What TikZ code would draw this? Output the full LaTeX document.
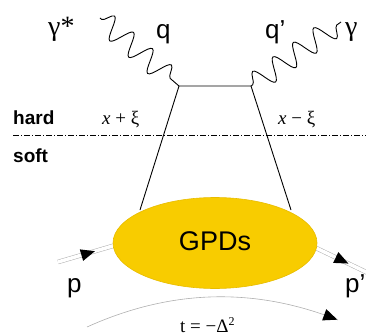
\documentclass[tikz,border=0pt]{standalone}
\usepackage{fontspec}
\setmainfont{Liberation Serif}
\setsansfont{Liberation Sans}
\usetikzlibrary{decorations.pathmorphing,decorations.markings,shapes.geometric}
\definecolor{gpdgold}{RGB}{248,204,0}
\definecolor{gpdedge}{RGB}{232,188,0}
\definecolor{protgray}{RGB}{175,175,175}
\begin{document}
\begin{tikzpicture}[x=1pt,y=1pt,
  photon/.style={decorate,decoration={snake,amplitude=11pt,segment length=25pt,pre length=2pt,post length=2pt},line width=0.9pt},
  quark/.style={line width=0.9pt},
  proton/.style={draw=protgray,double=white,double distance=3.5pt,line width=0.5pt},
  midarrow/.style={decoration={markings,mark=at position #1 with {\fill[black] (7pt,0) -- (-7pt,6pt) -- (-7pt,-6pt) -- cycle;}},decorate},
  sanslbl/.style={font=\sffamily\fontsize{26}{26}\selectfont,inner sep=0pt},
  seriflbl/.style={font=\fontsize{28}{28}\selectfont,inner sep=0pt},
  regionlbl/.style={font=\sffamily\bfseries\fontsize{19}{19}\selectfont,inner sep=0pt},
  mathlbl/.style={font=\fontsize{19}{19}\selectfont,inner sep=0pt}
]
\useasboundingbox (0,0) rectangle (366,335);

% coordinates
\coordinate (vl) at (179,249);
\coordinate (vr) at (251,249);
\coordinate (gl) at (100,317);
\coordinate (gr) at (341,313);
\coordinate (ql) at (140,125);
\coordinate (qr) at (291,125);
\coordinate (pin) at (58,73);
\coordinate (pinend) at (116,90);
\coordinate (pout) at (314,88);
\coordinate (poutend) at (368,62);
\coordinate (tl) at (87,8);
\coordinate (tr) at (338,15);
\coordinate (hl) at (13,200);
\coordinate (hr) at (366,200);

% hard / soft separator
\draw[line width=0.7pt,dash pattern=on 6pt off 2pt on 1pt off 2pt] (hl) -- (hr);
\node[regionlbl,anchor=base west] (hard) at (13,210) {hard};
\node[regionlbl,anchor=base west] (soft) at (13,173) {soft};

% proton lines
\draw[proton] (pin) -- (pinend);
\draw[proton] (pout) -- (poutend);

% photons
\draw[photon] (gl) -- (vl);
\draw[photon] (vr) -- (gr);

% quark lines
\draw[quark] (ql) -- (vl) -- (vr) -- (qr);

% GPD blob
\node[ellipse,fill=gpdgold,draw=gpdedge,line width=0.6pt,minimum width=204pt,minimum height=91pt,inner sep=0pt,
      font=\sffamily\fontsize{27}{27}\selectfont] (gpd) at (215,92) {\raisebox{3pt}{GPDs}};

% arrowheads on proton lines
\path[midarrow=0.52] (pin) -- (pinend);
\path[midarrow=0.52] (pout) -- (poutend);

% momentum transfer arc
\draw[protgray,line width=0.6pt] (tl) .. controls (171,46) and (255,48) .. (tr);
\path[midarrow=0.97] (tl) .. controls (171,46) and (255,48) .. (tr);

% labels
\node[seriflbl,anchor=base west] (gstar) at (48,299) {γ*};
\node[sanslbl,anchor=base west] (q) at (156,296) {q};
\node[sanslbl,anchor=base west] (qp) at (265,296) {q’};
\node[seriflbl,anchor=base west] (gam) at (345,299) {γ};
\node[mathlbl,anchor=base west] (xp) at (102,211) {\textit{x} + ξ};
\node[mathlbl,anchor=base west] (xm) at (278,211) {\textit{x} − ξ};
\node[sanslbl,anchor=base west] (p) at (67,43) {p};
\node[sanslbl,anchor=base west] (pp) at (345,43) {p’};
\node[mathlbl,anchor=base west] (t) at (180,3) {t = −Δ\raisebox{7pt}{\fontsize{12}{12}\selectfont 2}};
\end{tikzpicture}
\end{document}
